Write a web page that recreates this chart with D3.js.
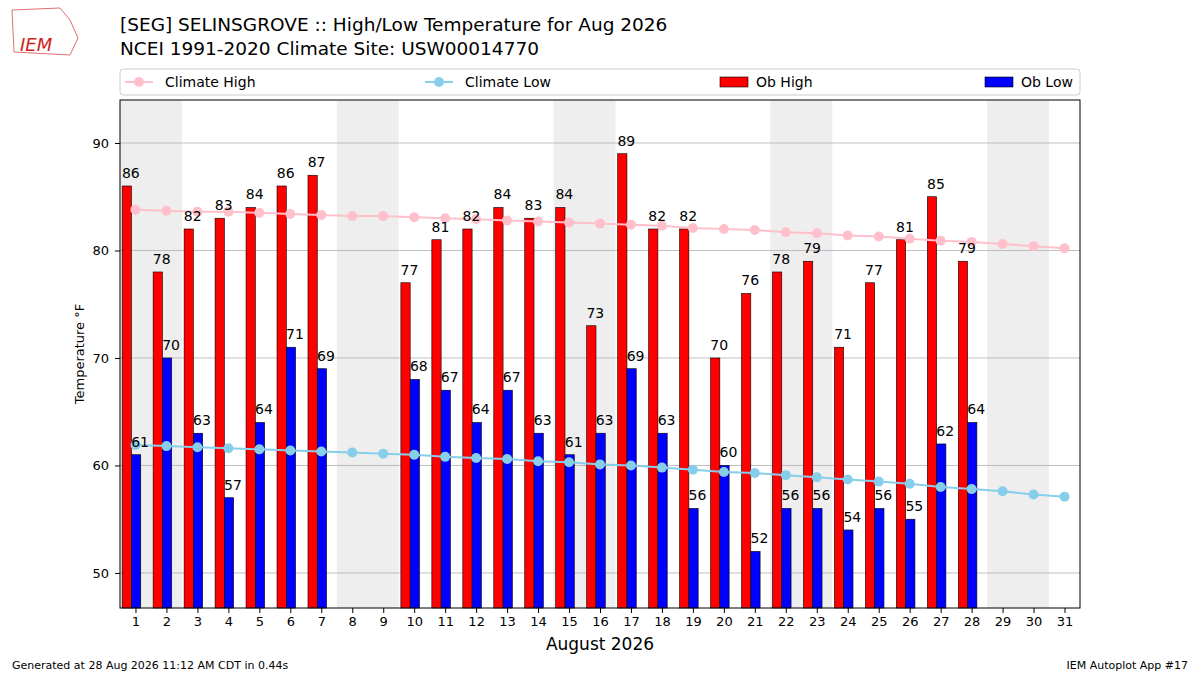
<!DOCTYPE html>
<html>
<head>
<meta charset="utf-8">
<script src="https://cdn.jsdelivr.net/npm/d3@7"></script>
<style>
  body { margin: 0; background: #fff; }
  text { font-family: "DejaVu Sans", sans-serif; }
</style>
</head>
<body>
<svg id="chart" width="1200" height="675"></svg>
<script>
'use strict';

const days = d3.range(1, 32);
const obHigh = [86, 78, 82, 83, 84, 86, 87, null, null, 77, 81, 82, 84, 83, 84, 73, 89, 82, 82, 70, 76, 78, 79, 71, 77, 81, 85, 79];
const obLow = [61, 70, 63, 57, 64, 71, 69, null, null, 68, 67, 64, 67, 63, 61, 63, 69, 63, 56, 60, 52, 56, 56, 54, 56, 55, 62, 64];
const climateHigh = [83.8, 83.7, 83.6, 83.6, 83.5, 83.4, 83.3, 83.2, 83.2, 83.1, 83.0, 82.9, 82.8, 82.7, 82.6, 82.5,
    82.4, 82.3, 82.1, 82.0, 81.9, 81.7, 81.6, 81.4, 81.3, 81.1, 80.9, 80.8, 80.6, 80.4, 80.2];
const climateLow = [61.9, 61.8, 61.7, 61.6, 61.5, 61.4, 61.3, 61.2, 61.1, 61.0, 60.8, 60.7, 60.6, 60.4, 60.3, 60.1,
    60.0, 59.8, 59.6, 59.4, 59.3, 59.1, 58.9, 58.7, 58.5, 58.3, 58.0, 57.8, 57.6, 57.3, 57.1];
const weekendStarts = [1, 8, 15, 22, 29];
const yTicks = [50, 60, 70, 80, 90];

const svg = d3.select('#chart');
const plot = {left: 120, right: 1080, top: 100, bottom: 608};

const x = d3.scaleLinear().domain([0.5, 31.5]).range([plot.left, plot.right]);
const y = d3.scaleLinear().domain([46.74, 94]).range([plot.bottom, plot.top]);
const dayW = x(2) - x(1);

// weekend shading
svg.selectAll('rect.wk').data(weekendStarts).enter().append('rect')
    .attr('x', d => x(d - 0.5)).attr('y', plot.top)
    .attr('width', dayW * 2).attr('height', plot.bottom - plot.top)
    .attr('fill', '#eeeeee');

// gridlines
svg.selectAll('line.grid').data(yTicks).enter().append('line')
    .attr('x1', plot.left).attr('x2', plot.right)
    .attr('y1', d => y(d)).attr('y2', d => y(d))
    .attr('stroke', '#b0b0b0').attr('stroke-width', 0.8);

const barW = dayW * 0.3;
const highData = obHigh.map((v, i) => ({day: i + 1, v})).filter(d => d.v !== null);
const lowData = obLow.map((v, i) => ({day: i + 1, v})).filter(d => d.v !== null);

const drawBars = (data, offset, color) => {
    svg.append('g').selectAll('rect').data(data).enter().append('rect')
        .attr('x', d => x(d.day) + offset * dayW)
        .attr('y', d => y(d.v))
        .attr('width', barW)
        .attr('height', d => plot.bottom - y(d.v))
        .attr('fill', color).attr('stroke', '#000').attr('stroke-width', 0.6);
};
drawBars(highData, -0.43, '#ff0000');
drawBars(lowData, -0.13, '#0000ff');

// climate lines
const drawClimate = (vals, color) => {
    const line = d3.line().x((d, i) => x(days[i])).y(d => y(d));
    svg.append('path').datum(vals).attr('d', line)
        .attr('fill', 'none').attr('stroke', color).attr('stroke-width', 2);
    svg.append('g').selectAll('circle').data(vals).enter().append('circle')
        .attr('cx', (d, i) => x(days[i])).attr('cy', d => y(d)).attr('r', 5)
        .attr('fill', color);
};
drawClimate(climateHigh, '#ffc0cb');
drawClimate(climateLow, '#87ceeb');

// bar labels (matplotlib puts them slightly right of the bar centre)
const drawLabels = (data, offset) => {
    svg.append('g').selectAll('text').data(data).enter().append('text')
        .attr('x', d => x(d.day) + offset * dayW + barW / 2 + 4)
        .attr('y', d => y(d.v) - 8)
        .attr('text-anchor', 'middle').attr('font-size', 14)
        .text(d => d.v);
};
drawLabels(highData, -0.43);
drawLabels(lowData, -0.13);

// frame
svg.append('rect').attr('x', plot.left).attr('y', plot.top)
    .attr('width', plot.right - plot.left).attr('height', plot.bottom - plot.top)
    .attr('fill', 'none').attr('stroke', '#000').attr('stroke-width', 1);

// axes
const xAxis = svg.append('g').attr('transform', `translate(0,${plot.bottom})`)
    .call(d3.axisBottom(x).tickValues(days).tickFormat(d3.format('d')).tickSizeOuter(0).tickSize(5).tickPadding(4));
const yAxis = svg.append('g').attr('transform', `translate(${plot.left},0)`)
    .call(d3.axisLeft(y).tickValues(yTicks).tickSizeOuter(0).tickSize(5).tickPadding(6));
[xAxis, yAxis].forEach(a => {
    a.select('.domain').remove();
    a.selectAll('text').attr('font-size', 13).attr('font-family', 'DejaVu Sans, sans-serif').attr('fill', '#000');
});

svg.append('text').attr('x', 600).attr('y', 650).attr('text-anchor', 'middle')
    .attr('font-size', 17).text('August 2026');
svg.append('text').attr('transform', 'translate(84,354) rotate(-90)')
    .attr('text-anchor', 'middle').attr('font-size', 13).text('Temperature °F');

// titles
svg.append('text').attr('x', 120).attr('y', 31).attr('font-size', 18.5)
    .text('[SEG] SELINSGROVE :: High/Low Temperature for Aug 2026');
svg.append('text').attr('x', 120).attr('y', 55).attr('font-size', 18.5)
    .text('NCEI 1991-2020 Climate Site: USW00014770');

// legend
svg.append('rect').attr('x', 120).attr('y', 69).attr('width', 960).attr('height', 26)
    .attr('rx', 3).attr('fill', '#fff').attr('stroke', '#ccc');
const legendY = 82;
const lineLegend = (lx, color, label) => {
    svg.append('line').attr('x1', lx).attr('x2', lx + 28).attr('y1', legendY).attr('y2', legendY)
        .attr('stroke', color).attr('stroke-width', 2);
    svg.append('circle').attr('cx', lx + 14).attr('cy', legendY).attr('r', 5).attr('fill', color);
    svg.append('text').attr('x', lx + 40).attr('y', legendY + 5).attr('font-size', 14).text(label);
};
lineLegend(125, '#ffc0cb', 'Climate High');
lineLegend(425, '#87ceeb', 'Climate Low');
const barLegend = (lx, color, label) => {
    svg.append('rect').attr('x', lx).attr('y', legendY - 5).attr('width', 28).attr('height', 10)
        .attr('fill', color).attr('stroke', '#000').attr('stroke-width', 0.6);
    svg.append('text').attr('x', lx + 36).attr('y', legendY + 5).attr('font-size', 14).text(label);
};
barLegend(720, '#ff0000', 'Ob High');
barLegend(985, '#0000ff', 'Ob Low');

// logo placeholder
svg.append('text').attr('x', 20).attr('y', 51).attr('font-size', 18)
    .attr('font-family', 'DejaVu Serif, serif').attr('font-style', 'italic')
    .attr('fill', '#d02020').text('IEM');
svg.append('path').attr('d', 'M12,10 L60,8 L70,20 L78,38 L70,55 L14,52 Z')
    .attr('fill', 'none').attr('stroke', '#e07070').attr('stroke-width', 1);

// footer
svg.append('text').attr('x', 12).attr('y', 669).attr('font-size', 11)
    .text('Generated at 28 Aug 2026 11:12 AM CDT in 0.44s');
svg.append('text').attr('x', 1188).attr('y', 669).attr('font-size', 11).attr('text-anchor', 'end')
    .text('IEM Autoplot App #17');
</script>
</body>
</html>
